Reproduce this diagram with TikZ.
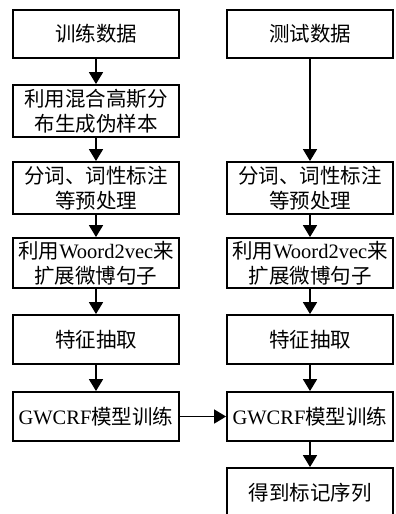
\documentclass[tikz,border=0pt]{standalone}
\usepackage{fontspec}
\setmainfont{Liberation Serif}
\newfontfamily\cjk{Noto Sans CJK SC}
\usetikzlibrary{arrows.meta}
\begin{document}
\begin{tikzpicture}[x=1pt,y=-1pt,
  box/.style={draw, line width=1.8pt, inner sep=0pt, align=center, minimum width=166pt,
    font=\cjk\fontsize{20.5}{25}\selectfont},
  arr/.style={-{Triangle[length=12pt,width=14pt]}, line width=1.5pt}]
\useasboundingbox (0,0) rectangle (396,514);
% left column
\node[box, minimum height=48.5pt] (l1) at (96,34) {训练数据};
\node[box, minimum height=52pt] (l2) at (96,111) {利用混合高斯分\\布生成伪样本};
\node[box, minimum height=52pt] (l3) at (96,188) {分词、词性标注\\等预处理};
\node[box, minimum height=50pt] (l4) at (96,263) {利用{\fontspec{Liberation Serif}Woord2vec}来\\扩展微博句子};
\node[box, minimum height=49pt] (l5) at (96,339.5) {特征抽取};
\node[box, minimum height=49pt] (l6) at (96,416.5) {{\fontspec{Liberation Serif}GWCRF}模型训练};
% right column
\node[box, minimum height=48.5pt] (r1) at (310,34) {测试数据};
\node[box, minimum height=52pt] (r3) at (310,188) {分词、词性标注\\等预处理};
\node[box, minimum height=50pt] (r4) at (310,263) {利用{\fontspec{Liberation Serif}Woord2vec}来\\扩展微博句子};
\node[box, minimum height=49pt] (r5) at (310,339.5) {特征抽取};
\node[box, minimum height=49pt] (r6) at (310,416.5) {{\fontspec{Liberation Serif}GWCRF}模型训练};
\node[box, minimum height=50pt] (r7) at (310,493) {得到标记序列};
% arrows
\draw[arr] (l1) -- (l2);
\draw[arr] (l2) -- (l3);
\draw[arr] (l3) -- (l4);
\draw[arr] (l4) -- (l5);
\draw[arr] (l5) -- (l6);
\draw[arr] (r1) -- (r3);
\draw[arr] (r3) -- (r4);
\draw[arr] (r4) -- (r5);
\draw[arr] (r5) -- (r6);
\draw[arr] (r6) -- (r7);
\draw[arr] (l6) -- (r6);
\end{tikzpicture}
\end{document}
